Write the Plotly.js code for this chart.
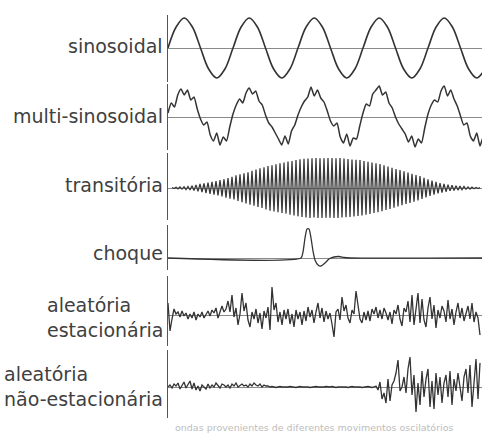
<!DOCTYPE html>
<html>
<head>
<meta charset="utf-8">
<script src="https://cdn.plot.ly/plotly-3.0.1.min.js"></script>
<style>html,body{margin:0;padding:0;background:#fff;}#chart{width:482px;height:435px;}</style>
</head>
<body>
<div id="chart"></div>
<script>
// Row labels
const labels = ["sinosoidal", "multi-sinosoidal", "transitória", "choque",
  "aleatória<br>estacionária", "aleatória<br>não-estacionária"];
const caption = "ondas provenientes de diferentes movimentos oscilatórios";

// Time axis in ms (1 unit ≈ 1 sample step of the drawing)
const timeRange = [0, 314];

// 1) sinusoidal, sampled every 8.125 ms
const sinT0 = 0, sinDt = 8.125;
const sinY = [0, 21, 30, 21, 0, -21, -30, -21,
              0, 21, 30, 21, 0, -21, -30, -21,
              0, 21, 30, 21, 0, -21, -30, -21,
              0, 21, 30, 21, 0, -21, -30, -21,
              0, 21, 30, 21, 0, -21, -30, -21];

// 2) multi-sinusoidal, sampled every 3.25 ms
const multiT0 = 0, multiDt = 3.25;
const multiY = [
  4, 14, 10, 22, 28, 22, 27, 17, 20, 8, -2, -8, -5, -18, -24, -16, -28, -20, -24, -10,
  3, 12, 18, 14, 24, 29, 23, 26, 16, 12, 2, -6, -10, -16, -22, -28, -19, -27, -14, -8,
  2, 10, 16, 20, 30, 21, 27, 19, 15, 6, -4, -9, -6, -20, -26, -17, -29, -21, -22, -9,
  4, 13, 11, 23, 27, 31, 22, 25, 14, 9, 0, -7, -12, -17, -25, -19, -30, -22, -26, -11,
  3, 12, 17, 15, 26, 31, 21, 27, 18, 11, 1, -8, -6, -19, -24, -16, -29, -20, -25, -10];

// 3) transitória, sampled every 2 ms
const transT0 = 4, transDt = 2;
const transY = [
  0.5, -0.5, 0.7, -0.8, 1,  -1.1, 1.3, -1.5, 1.6, -2,
  2.3, -2.6, 3.1, -3.3, 4,  -4.2, 4.5, -5, 5.3, -5.8,
  6.1, -6.7, 6.8, -7.4, 7.8,  -8.3, 8.8, -9.6, 9.9, -10.8,
  11.2, -11.5, 12.6, -12.9, 13.8,  -14.1, 14.8, -15.5, 15.6, -16.8,
  17.2, -17.6, 18.5, -18.9, 19.7,  -20, 20.8, -21.5, 22, -22.6,
  22.8, -23.5, 23.6, -24.3, 24.8,  -25, 25.5, -25.6, 26.4, -26.8,
  27, -27.5, 27.9, -28.3, 28.8,  -29, 29.2, -29.5, 29.6, -30,
  29.8, -29.6, 30, -29.9, 29.7,  -30, 29.8, -29.7, 30, -29.8,
  29.9, -30, 29.7, -29.9, 30,  -29.6, 29.5, -29.2, 29, -28.9,
  28.6, -28.5, 28.2, -28, 27.9,  -27.4, 27, -26.7, 26.2, -25.9,
  25.4, -25, 24.6, -24.3, 23.9,  -23.2, 22.6, -22, 21.4, -20.9,
  20.2, -19.6, 19, -18.5, 17.9,  -17.2, 16.6, -16, 15.5, -14.9,
  14.2, -13.6, 13, -12.5, 11.9,  -11, 10.2, -9.5, 8.7, -7.9,
  7.3, -6.7, 6.1, -5.5, 4.9,  -4.5, 4.1, -3.7, 3.3, -2.9,
  2.7, -2.5, 2.3, -2.1, 1.9,  -1.7, 1.5, -1.3, 1.1, -1,
  0.8, -0.7, 0.6, -0.5, 0.4];

// 4) choque (irregular samples)
const shockT = [0, 133, 135, 137, 139, 141, 143, 145, 147, 150, 153, 157, 161, 166, 171, 176, 182, 314];
const shockY = [0, 0, 6, 20, 29, 29, 20, 7, -2, -7, -8, -5, -1, 1, 1.5, 0.5, 0, 0];

// 5) aleatória estacionária, sampled every 2 ms
const statT0 = 0, statDt = 2;
const statY = [
  12, -16, -4, 6, 1, 3, -2, 4, -1, 2,
  -4, 1, -3, 3, -5, 1, -2, 3, -3, 1,
  4, -1, 5, 2, 7, -3, 4, 9, 3, 6,
  14, 3, 20, -2, 7, -10, 1, 22, 4, 12,
  -5, -12, 3, -4, 6, -8, 2, -14, 4, -3,
  8, -15, 28, 5, 12, -7, 3, -10, 5, -4,
  6, -9, 1, -12, 5, -4, 3, -10, 4, -6,
  8, -2, 5, -8, 3, 12, -3, 7, -7, 4,
  -4, 2, -9, -22, 3, 6, -5, 18, 4, 10,
  -3, -8, 5, 1, 24, 7, -4, -8, 3, -5,
  4, -6, 6, 1, 8, -3, 5, -4, 7, 2,
  -5, 3, -9, 5, 1, 10, -4, -11, 7, 3,
  14, -7, 20, -10, 4, 22, -8, 16, -5, -12,
  7, 18, -4, 10, -13, 5, -3, 9, 4, -7,
  15, -4, 6, -10, 3, 12, -3, 7, -6, 3,
  9, -4, 12, -7, 3, -3, -20];

// 6) aleatória não-estacionária, sampled every 2 ms
const nonStatT0 = 0, nonStatDt = 2;
const nonStatY = [
  0, 2, -1, 3, 1, 4, -2, 2, 5, -1,
  3, 6, -2, 4, -3, 1, -4, 2, 0, -2,
  3, -1, 2, 0, 4, 1, -1, 3, 2, 0,
  2, -1, 3, 1, 4, 0, 2, 3, 1, 2,
  0, 3, 1, 4, 2, 1, 3, 0, 2, 1,
  1, 0, 0.5, 0, -0.5, 0, 0.5, 0, 0, -0.5,
  0, 0.5, 0, 0, -0.5, 0, 0.5, 0, 0, 0.5,
  0, -0.5, 0, 0, 0.5, 0, 0, -0.5, 0, 0.5,
  0, 0, 0.5, 0, -0.5, 0, 0, 0.5, 0, 0,
  -0.5, 0, 0.5, 0, 0, 0.5, 0, -0.5, 0, 0,
  0.5, 0, -0.5, 0, 1, -3, 5, -12, -6, -16,
  8, -14, 2, 6, 14, 27, -4, 0, 10, -6,
  18, 30, -8, 12, -25, 4, -18, 16, -10, 8,
  18, -20, 6, -22, 14, -8, 10, -16, 4, 12,
  -10, 16, -18, 8, -4, 14, 2, -14, 10, 18,
  -6, 22, -20, 6, 28, -12, 24];

// ---- layout helpers (pixel geometry of the rows) ----
const H = 435;
const rows = [
  {top: 15, bottom: 82, base: 48, label: 46},
  {top: 84, bottom: 150, base: 117, label: 116},
  {top: 153, bottom: 220, base: 188, label: 185},
  {top: 225, bottom: 270, base: 258, label: 253},
  {top: 276, bottom: 346, base: 315, label: 317},
  {top: 350, bottom: 418, base: 387, label: 386}
];

const lineColor = "#333";
const traces = [
  {y: sinY, x0: sinT0, dx: sinDt, line: {shape: "spline", smoothing: 1, width: 1.6}},
  {y: multiY, x0: multiT0, dx: multiDt, line: {shape: "spline", smoothing: 0.5, width: 1.5}},
  {y: transY, x0: transT0, dx: transDt, line: {width: 1.3, color: "#3a3a3a"}},
  {x: shockT, y: shockY, line: {shape: "spline", smoothing: 0.6, width: 1.3}},
  {y: statY, x0: statT0, dx: statDt, line: {width: 1.3}},
  {y: nonStatY, x0: nonStatT0, dx: nonStatDt, line: {width: 1.3}}
].map((t, i) => Object.assign({
  type: "scatter", mode: "lines", hoverinfo: "skip", showlegend: false,
  xaxis: "x", yaxis: i === 0 ? "y" : "y" + (i + 1)
}, t, {line: Object.assign({color: lineColor}, t.line)}));

const layout = {
  width: 482, height: 435,
  margin: {l: 168, r: 0, t: 0, b: 0, pad: 0},
  paper_bgcolor: "#fff", plot_bgcolor: "#fff",
  showlegend: false,
  xaxis: {range: timeRange, visible: false, fixedrange: true},
  annotations: [],
  font: {family: "DejaVu Sans", color: "#404040"}
};

rows.forEach((r, i) => {
  const key = i === 0 ? "yaxis" : "yaxis" + (i + 1);
  layout[key] = {
    domain: [1 - r.bottom / H, 1 - r.top / H],
    range: [-(r.bottom - r.base), r.base - r.top],
    anchor: "x",
    showline: true, linecolor: "#555", linewidth: 1.5,
    zeroline: true, zerolinecolor: "#8a8a8a", zerolinewidth: 1,
    showgrid: false, showticklabels: false, ticks: "", fixedrange: true
  };
  layout.annotations.push({
    text: labels[i], xref: "paper", yref: "paper",
    x: 0, xanchor: "right", xshift: -3,
    y: 1 - r.label / H, yanchor: "middle",
    align: "left", showarrow: false,
    font: {family: "DejaVu Sans", size: 19, color: "#404040"}
  });
});

layout.annotations.push({
  text: caption, xref: "paper", yref: "paper",
  x: 0.016, xanchor: "left", y: 1 - 427 / H, yanchor: "middle",
  showarrow: false,
  font: {family: "DejaVu Sans", size: 9.5, color: "#bdbdbd"}
});

Plotly.newPlot("chart", traces, layout, {displayModeBar: false, staticPlot: true});
</script>
</body>
</html>
